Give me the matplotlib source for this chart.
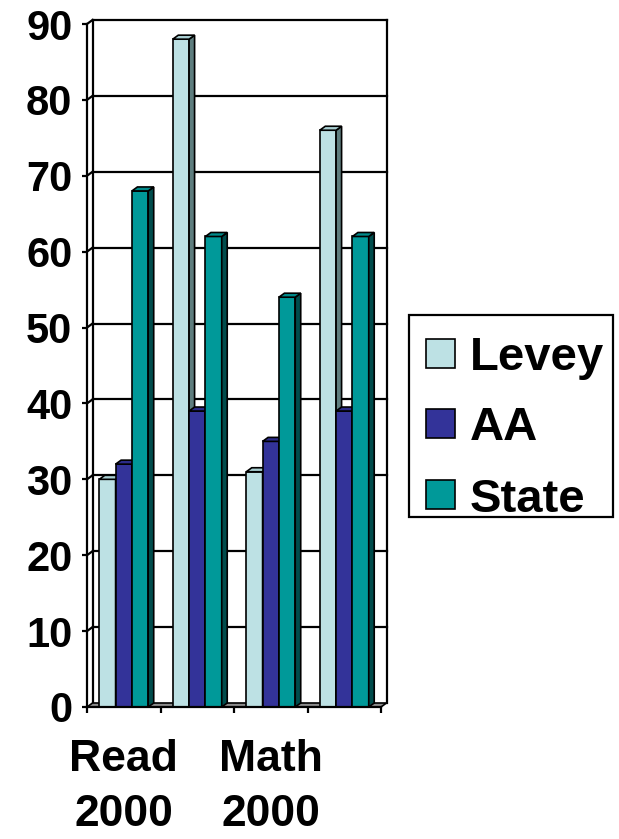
import matplotlib
matplotlib.use('Agg')
import matplotlib.pyplot as plt
from matplotlib.patches import Polygon, Rectangle

plt.rcParams['font.family'] = ['Liberation Sans', 'DejaVu Sans']
plt.rcParams['font.weight'] = 'bold'

categories = ['Read\n2000', '', 'Math\n2000', '']
series = ['Levey', 'AA', 'State']
levey = [30, 88, 31, 76]
aa = [32, 39, 35, 39]
state = [68, 62, 54, 62]

front_colors = ['#BDE1E4', '#333399', '#009999']
top_colors = ['#A9CFD2', '#2B2B88', '#008A8A']
side_colors = ['#5E7D7E', '#1C1C55', '#004C4C']

y_max = 90
bar_w = 0.222
depth_px = (5.5, 4.0)

W, H = 619, 839
fig = plt.figure(figsize=(W / 100, H / 100), dpi=100)
ax = fig.add_axes([87 / W, (H - 707) / H, (381 - 87) / W, (707 - 24) / H])
ax.set_xlim(-0.5, len(categories) - 0.5)
ax.set_ylim(0, y_max)

# depth offset of the 3D box, in data units
ax_w_px = (381 - 87)
ax_h_px = (707 - 24)
ddx = depth_px[0] * len(categories) / ax_w_px
ddy = depth_px[1] * y_max / ax_h_px

x_lo, x_hi = -0.5, len(categories) - 0.5
grid_kw = dict(color='black', lw=1.6, clip_on=False, zorder=1)

# back wall gridlines, side-wall diagonals and wall edges
for v in range(10, y_max + 1, 10):
    ax.plot([x_lo + ddx, x_hi + ddx], [v + ddy, v + ddy], **grid_kw)
    ax.plot([x_lo, x_lo + ddx], [v, v + ddy], **grid_kw)
ax.plot([x_lo + ddx, x_lo + ddx], [ddy, y_max + ddy], **grid_kw)
ax.plot([x_hi + ddx, x_hi + ddx], [ddy, y_max + ddy], **grid_kw)

# floor
floor = Polygon([(x_lo, 0), (x_hi, 0), (x_hi + ddx, ddy), (x_lo + ddx, ddy)],
                closed=True, facecolor='#8C8C8C', edgecolor='black', lw=1.2,
                clip_on=False, zorder=2)
ax.add_patch(floor)

values = [levey, aa, state]
for s, vals in enumerate(values):
    for i, v in enumerate(vals):
        x0 = i + (s - 1.5) * bar_w
        x1 = x0 + bar_w
        z = 3 + s
        ax.bar(x0, v, width=bar_w, align='edge', color=front_colors[s],
               edgecolor='black', lw=1.2, zorder=z)
        top = Polygon([(x0, v), (x1, v), (x1 + ddx, v + ddy), (x0 + ddx, v + ddy)],
                      closed=True, facecolor=top_colors[s], edgecolor='black',
                      lw=1.2, clip_on=False, zorder=z)
        side = Polygon([(x1, 0), (x1 + ddx, ddy), (x1 + ddx, v + ddy), (x1, v)],
                       closed=True, facecolor=side_colors[s], edgecolor='black',
                       lw=1.2, clip_on=False, zorder=z)
        ax.add_patch(side)
        ax.add_patch(top)

# front axes
for sp in ['top', 'right']:
    ax.spines[sp].set_visible(False)
for sp in ['left', 'bottom']:
    ax.spines[sp].set_linewidth(1.6)
    ax.spines[sp].set_zorder(10)

ax.set_yticks(range(0, y_max + 1, 10))
ax.tick_params(axis='y', length=3.5, width=1.6, pad=7, labelsize=30)

ax.set_xticks(range(len(categories)))
ax.set_xticklabels(categories)
ax.set_xticks([b - 0.5 for b in range(len(categories) + 1)], minor=True)
ax.tick_params(axis='x', which='major', length=0, pad=23, labelsize=32)
ax.tick_params(axis='x', which='minor', length=4, width=1.6)
for lab in ax.get_xticklabels():
    lab.set_linespacing(1.45)

# legend box drawn in pixel positions
def fx(px):
    return px / W

def fy(py):
    return 1 - py / H

fig.patches.append(Rectangle((fx(409), fy(517)), fx(613) - fx(409), fy(315) - fy(517),
                             transform=fig.transFigure, facecolor='white',
                             edgecolor='black', lw=1.6))
row_centers = [353.5, 423, 494.5]
sw = 29
for name, color, cy in zip(series, front_colors, row_centers):
    fig.patches.append(Rectangle((fx(426), fy(cy + sw / 2)), fx(sw), sw / H,
                                 transform=fig.transFigure, facecolor=color,
                                 edgecolor='black', lw=1.2))
    fig.text(fx(470), fy(cy + 17), name, fontsize=34, fontweight='bold',
             ha='left', va='baseline')

fig.savefig('out.png', dpi=100)
